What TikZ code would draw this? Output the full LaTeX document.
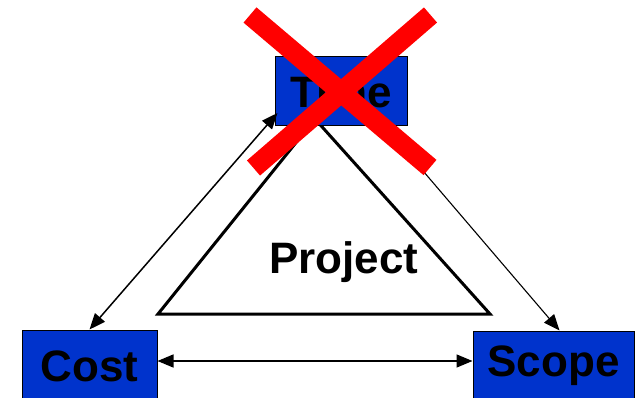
\documentclass[tikz,border=0pt]{standalone}
\usepackage{fontspec}
\setmainfont{Liberation Sans}
\usetikzlibrary{arrows.meta}
\definecolor{boxblue}{RGB}{0,51,204}
\definecolor{xred}{RGB}{255,0,0}
\begin{document}
\begin{tikzpicture}[x=1pt,y=-1pt,
  box/.style={draw=black,line width=1pt,fill=boxblue,inner sep=0pt,
    font=\fontsize{44}{50}\selectfont\bfseries},
  link/.style={line width=1.5pt,{Triangle[length=16pt,width=13pt]}-{Triangle[length=16pt,width=13pt]}},
  onelink/.style={line width=1.1pt,-{Triangle[length=16pt,width=13pt]}},
  tri/.style={line width=3pt,line join=miter},
  cross/.style={draw=xred,line width=20pt,line cap=butt}]
\useasboundingbox (0,0) rectangle (640,398);
\fill[white] (0,0) rectangle (640,398);
% triangle
\coordinate (tl) at (158,314);
\coordinate (tr) at (490,314);
\coordinate (ta) at (315,119);
\draw[tri] (tl) -- (ta) -- (tr) -- cycle;
\node[font=\fontsize{44}{50}\selectfont\bfseries,anchor=base,inner sep=0pt] (proj) at (344,273) {Project};
% boxes
\node[box,minimum width=132pt,minimum height=69pt] (time) at (341,91.5) {Time};
\node[box,minimum width=135pt,minimum height=72pt] (cost) at (89.5,366) {Cost};
\node[box,minimum width=161pt,minimum height=70pt] (scope) at (553.5,366) {Scope};
% connectors
\draw[link] (cost.north) -- ([yshift=-21.5pt,xshift=3pt]time.west);
\draw[link] ([yshift=5pt]cost.east) -- ([yshift=5pt]scope.west);
\draw[onelink] ([xshift=44pt]time.south) -- ([xshift=6pt]scope.north);
% red cross
\coordinate (x1) at (250,15);
\coordinate (x2) at (430,167.5);
\coordinate (x3) at (430.5,15);
\coordinate (x4) at (253.5,168);
\draw[cross] (x1) -- (x2);
\draw[cross] (x3) -- (x4);
\end{tikzpicture}
\end{document}
